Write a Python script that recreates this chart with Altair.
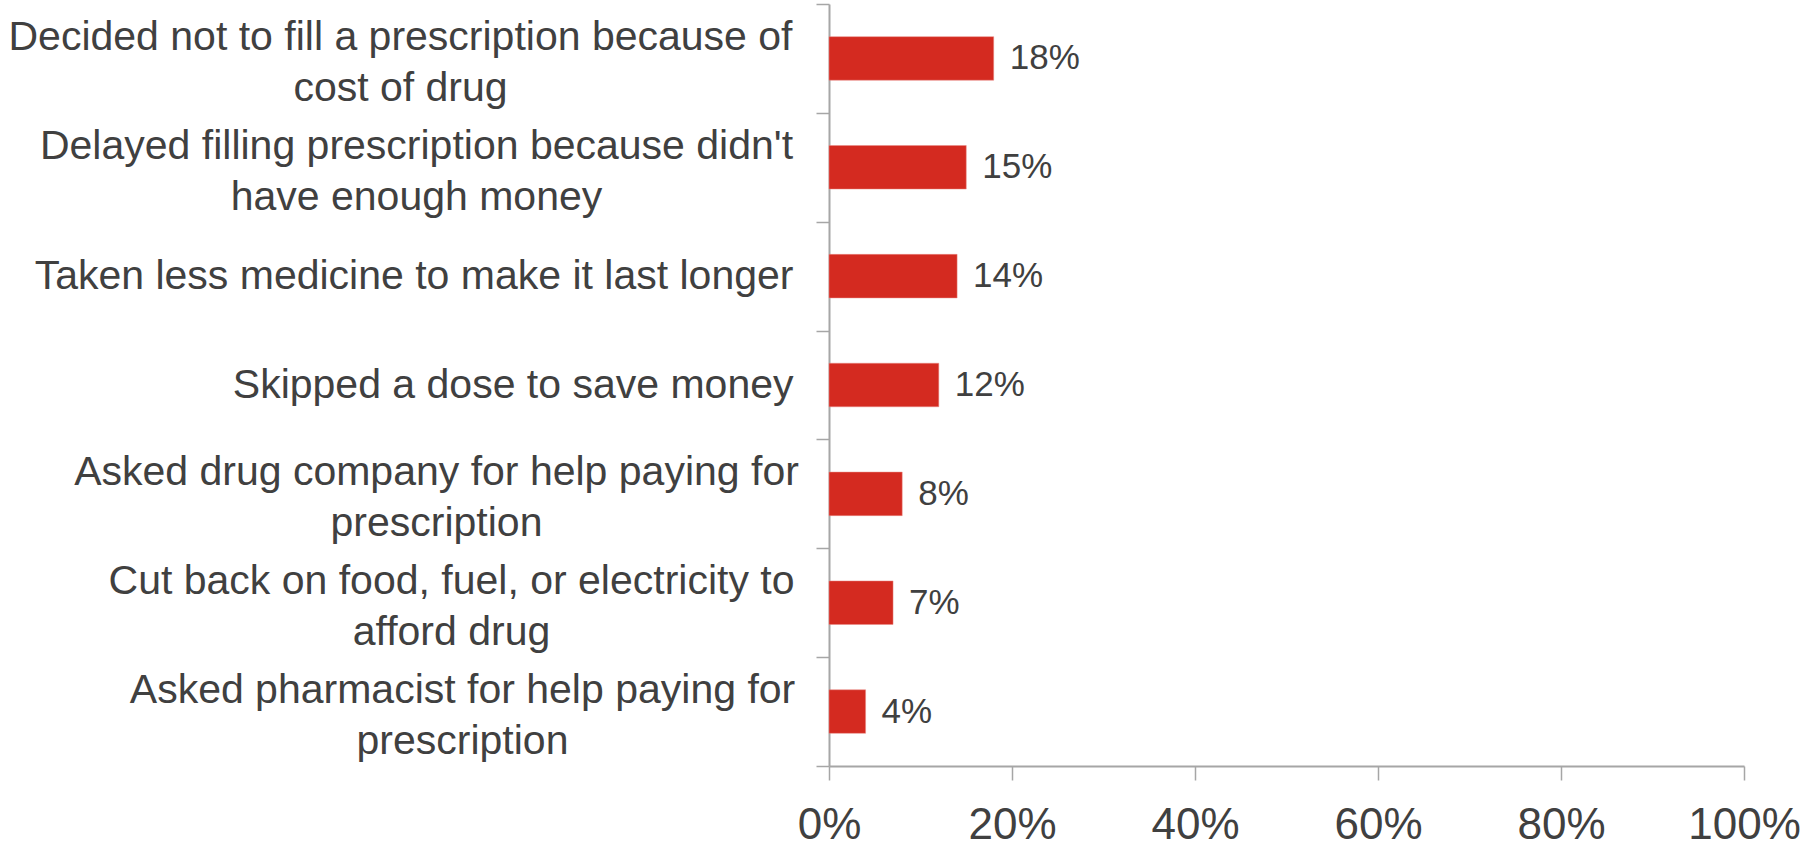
import json
import altair as alt
import pandas as pd

# ---- data ----
categories = [
    "Decided not to fill a prescription because of|cost of drug",
    "Delayed filling prescription because didn't|have enough money",
    "Taken less medicine to make it last longer",
    "Skipped a dose to save money",
    "Asked drug company for help paying for|prescription",
    "Cut back on food, fuel, or electricity to|afford drug",
    "Asked pharmacist for help paying for|prescription",
]
values = [0.18, 0.15, 0.14, 0.12, 0.08, 0.07, 0.04]
x_ticks = [0, 0.2, 0.4, 0.6, 0.8, 1.0]

# ---- layout: label-block centre distance for the wrapped (two-line) labels ----
wrapped_padding = {
    categories[0]: 416,
    categories[1]: 400,
    categories[4]: 380,
    categories[5]: 365,
    categories[6]: 354,
}

df = pd.DataFrame({"category": categories, "value": values})

TEXT = "#404040"
FONT = "Liberation Sans"
GRAY = "#a6a6a6"
LINE_H = 51

pad_conditions = [
    {"test": f"datum.value == {json.dumps(k)}", "value": v}
    for k, v in wrapped_padding.items()
]
align_conditions = [
    {"test": f"datum.value == {json.dumps(k)}", "value": "center"}
    for k in wrapped_padding
]
offset_conditions = [
    {"test": f"datum.value == {json.dumps(k)}", "value": -21}
    for k in wrapped_padding
]

y_enc = alt.Y(
    "category:N",
    sort=categories,
    title=None,
    scale=alt.Scale(paddingInner=0, paddingOuter=0),
    axis=alt.Axis(
        labelExpr="split(datum.label, '|')",
        labelFont=FONT,
        labelFontSize=41,
        labelColor=TEXT,
        labelLineHeight=LINE_H,
        labelLimit=2000,
        labelBaseline="middle",
        labelAlign={"condition": align_conditions, "value": "right"},
        labelPadding={"condition": pad_conditions, "value": 23},
        labelOffset={"condition": offset_conditions, "value": 0},
        tickBand="extent",
        tickSize=13,
        tickColor=GRAY,
        tickWidth=1.5,
        domainColor=GRAY,
        domainWidth=2,
        grid=False,
    ),
)

x_enc = alt.X(
    "value:Q",
    title=None,
    scale=alt.Scale(domain=[0, 1], nice=False),
    axis=alt.Axis(
        values=x_ticks,
        format=".0%",
        labelFont=FONT,
        labelFontSize=44,
        labelColor=TEXT,
        labelPadding=23,
        tickSize=14,
        tickColor=GRAY,
        tickWidth=1.5,
        domainColor=GRAY,
        domainWidth=2,
        grid=False,
        labelFlush=False,
    ),
)

bars = alt.Chart(df).mark_bar(
    color="#D42A20",
    stroke="#e88a84",
    strokeWidth=0.5,
    height=alt.RelativeBandSize(band=0.4),
).encode(x=x_enc, y=y_enc)

text = alt.Chart(df).mark_text(
    align="left", baseline="middle", dx=16, font=FONT, fontSize=35, color=TEXT
).encode(
    x=alt.X("value:Q"),
    y=alt.Y("category:N", sort=categories),
    text=alt.Text("value:Q", format=".0%"),
)

chart = (
    alt.layer(bars, text)
    .properties(
        width=915,
        height=762,
        autosize=alt.AutoSizeParams(type="none"),
        padding={"left": 829, "top": 4, "right": 62, "bottom": 85},
        background="white",
    )
    .configure_view(stroke=None)
)

chart.save("out.html", embed_options={"renderer": "svg", "actions": False})
